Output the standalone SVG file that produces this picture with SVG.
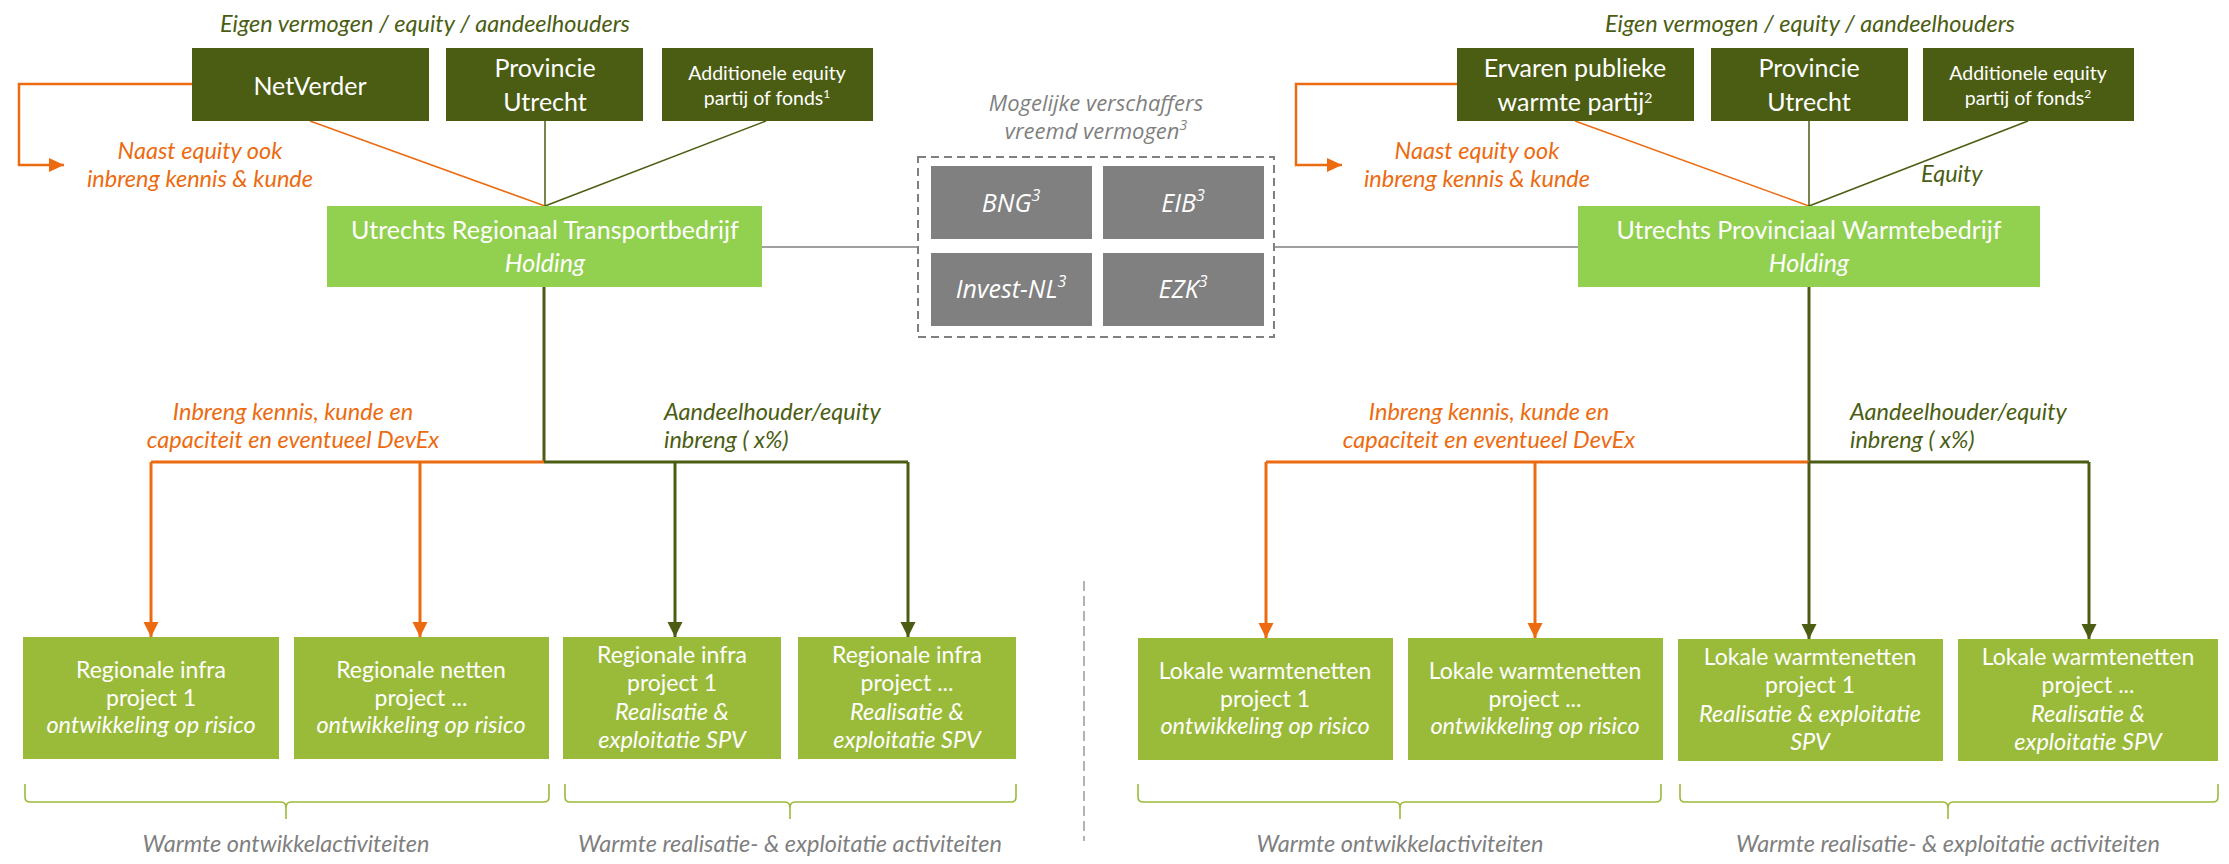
<svg xmlns="http://www.w3.org/2000/svg" width="2229" height="864" viewBox="0 0 2229 864">
<defs>
<style>
.c{font-family:Lato,"Liberation Sans",sans-serif;text-anchor:middle}
.w{fill:#ffffff}
.i{font-style:italic}
.big{font-size:25px}
.sm{font-size:19.5px}
.pb{font-size:23px}
.pi{font-size:23.5px;font-style:italic}
.lab{font-size:23.5px;font-style:italic}
.seg{font-family:"Open Sans","Liberation Sans",sans-serif;font-style:italic;text-anchor:middle}
.dark{fill:#4b5d12}
.hold{fill:#92d050}
.proj{fill:#9abb3a}
.gbox{fill:#808080}
.ol{stroke:#4b5d12;fill:none}
.or{stroke:#ec6b10;fill:none}
.gr{stroke:#808080;fill:none;stroke-width:1.5}
.br{stroke:#9bbb3b;fill:none;stroke-width:1.6}
</style>
<marker id="ao" markerUnits="userSpaceOnUse" markerWidth="16" markerHeight="16" viewBox="0 0 16 16" refX="15" refY="8" orient="auto"><path d="M0,0.5 L15,8 L0,15.5Z" fill="#ec6b10"/></marker>
<marker id="ag" markerUnits="userSpaceOnUse" markerWidth="16" markerHeight="16" viewBox="0 0 16 16" refX="15" refY="8" orient="auto"><path d="M0,0.5 L15,8 L0,15.5Z" fill="#4b5d12"/></marker>
<marker id="as" markerUnits="userSpaceOnUse" markerWidth="16" markerHeight="14" viewBox="0 0 16 14" refX="15" refY="7" orient="auto"><path d="M0,0 L15,7 L0,14Z" fill="#ec6b10"/></marker>
</defs>
<rect width="2229" height="864" fill="#ffffff"/>

<g id="connectors">
<line class="or" x1="310" y1="121" x2="545" y2="206" stroke-width="1.5"/>
<line class="ol" x1="545" y1="121" x2="545" y2="206" stroke-width="1.5"/>
<line class="ol" x1="766" y1="121" x2="545" y2="206" stroke-width="1.5"/>
<path class="or" d="M192,84 H19 V165 H64" stroke-width="2.5" marker-end="url(#as)"/>
<line class="gr" x1="762" y1="247" x2="918" y2="247"/>
<line class="ol" x1="544" y1="287" x2="544" y2="462" stroke-width="3"/>
<line class="or" x1="151" y1="462" x2="544" y2="462" stroke-width="3"/>
<line class="ol" x1="544" y1="462" x2="908" y2="462" stroke-width="3"/>
<path class="or" d="M151,462 V637" stroke-width="3" marker-end="url(#ao)"/>
<path class="or" d="M420,462 V637" stroke-width="3" marker-end="url(#ao)"/>
<path class="ol" d="M675,462 V637" stroke-width="3" marker-end="url(#ag)"/>
<path class="ol" d="M908,462 V637" stroke-width="3" marker-end="url(#ag)"/>

<line class="or" x1="1575" y1="121" x2="1809" y2="206" stroke-width="1.5"/>
<line class="ol" x1="1809" y1="121" x2="1809" y2="206" stroke-width="1.5"/>
<line class="ol" x1="2028" y1="121" x2="1809" y2="206" stroke-width="1.5"/>
<path class="or" d="M1457,84 H1296 V165 H1342" stroke-width="2.5" marker-end="url(#as)"/>
<line class="gr" x1="1274" y1="247" x2="1578" y2="247"/>
<line class="ol" x1="1809" y1="287" x2="1809" y2="462" stroke-width="3"/>
<line class="or" x1="1266" y1="462" x2="1809" y2="462" stroke-width="3"/>
<line class="ol" x1="1809" y1="462" x2="2089" y2="462" stroke-width="3"/>
<path class="or" d="M1266,462 V638" stroke-width="3" marker-end="url(#ao)"/>
<path class="or" d="M1535,462 V638" stroke-width="3" marker-end="url(#ao)"/>
<path class="ol" d="M1809,462 V639" stroke-width="3" marker-end="url(#ag)"/>
<path class="ol" d="M2089,462 V639" stroke-width="3" marker-end="url(#ag)"/>

<line x1="1084" y1="581" x2="1084" y2="841" stroke="#999999" stroke-width="1.5" stroke-dasharray="10,5"/>
</g>

<g id="braces">
<path class="br" d="M25,784 V797 Q25,802 30,802 H281 Q286,802 286,808 V819 M286,808 Q286,802 291,802 H544 Q549,802 549,797 V784"/>
<path class="br" d="M565,784 V797 Q565,802 570,802 H785 Q790,802 790,808 V819 M790,808 Q790,802 795,802 H1011 Q1016,802 1016,797 V784"/>
<path class="br" d="M1138,784 V797 Q1138,802 1143,802 H1395 Q1400,802 1400,808 V819 M1400,808 Q1400,802 1405,802 H1656 Q1661,802 1661,797 V784"/>
<path class="br" d="M1680,784 V797 Q1680,802 1685,802 H1943 Q1948,802 1948,808 V819 M1948,808 Q1948,802 1953,802 H2213 Q2218,802 2218,797 V784"/>
</g>

<g id="labels">
<text class="c lab" x="425" y="32" fill="#4b5d12">Eigen vermogen / equity / aandeelhouders</text>
<text class="c lab" x="1810" y="32" fill="#4b5d12">Eigen vermogen / equity / aandeelhouders</text>
<text class="c lab" x="200" y="159" fill="#ec6b10">Naast equity ook</text>
<text class="c lab" x="200" y="187" fill="#ec6b10">inbreng kennis &amp; kunde</text>
<text class="c lab" x="1477" y="159" fill="#ec6b10">Naast equity ook</text>
<text class="c lab" x="1477" y="187" fill="#ec6b10">inbreng kennis &amp; kunde</text>
<text class="c lab" x="1921" y="182" fill="#4b5d12" style="text-anchor:start">Equity</text>
<text class="seg" x="1096" y="111" font-size="22" fill="#7f7f7f">Mogelijke verschaffers</text>
<text class="seg" x="1096" y="139" font-size="22" fill="#7f7f7f">vreemd vermogen<tspan font-size="14" baseline-shift="super">3</tspan></text>
<text class="c lab" x="293" y="420" fill="#ec6b10">Inbreng kennis, kunde en</text>
<text class="c lab" x="293" y="448" fill="#ec6b10">capaciteit en eventueel DevEx</text>
<text class="c lab" x="664" y="420" fill="#4b5d12" style="text-anchor:start">Aandeelhouder/equity</text>
<text class="c lab" x="664" y="448" fill="#4b5d12" style="text-anchor:start">inbreng ( x%)</text>
<text class="c lab" x="1489" y="420" fill="#ec6b10">Inbreng kennis, kunde en</text>
<text class="c lab" x="1489" y="448" fill="#ec6b10">capaciteit en eventueel DevEx</text>
<text class="c lab" x="1850" y="420" fill="#4b5d12" style="text-anchor:start">Aandeelhouder/equity</text>
<text class="c lab" x="1850" y="448" fill="#4b5d12" style="text-anchor:start">inbreng ( x%)</text>
<text class="c lab" x="286" y="852" fill="#7f7f7f">Warmte ontwikkelactiviteiten</text>
<text class="c lab" x="790" y="852" fill="#7f7f7f">Warmte realisatie- &amp; exploitatie activiteiten</text>
<text class="c lab" x="1400" y="852" fill="#7f7f7f">Warmte ontwikkelactiviteiten</text>
<text class="c lab" x="1948" y="852" fill="#7f7f7f">Warmte realisatie- &amp; exploitatie activiteiten</text>
</g>

<g id="netverder"><rect class="dark" x="192" y="48" width="237" height="73"/><text class="c w big" x="310" y="95">NetVerder</text></g>
<g id="provincie-l"><rect class="dark" x="446" y="48" width="197" height="73"/><text class="c w big" x="545" y="77">Provincie</text><text class="c w big" x="545" y="111">Utrecht</text></g>
<g id="additioneel-l"><rect class="dark" x="662" y="48" width="211" height="73"/><text class="c w sm" x="767" y="80">Additionele equity</text><text class="c w sm" x="767" y="105">partij of fonds<tspan font-size="12" baseline-shift="super">1</tspan></text></g>
<g id="holding-l"><rect class="hold" x="327" y="206" width="435" height="81"/><text class="c w big" x="545" y="239">Utrechts Regionaal Transportbedrijf</text><text class="c w big i" x="545" y="272">Holding</text></g>

<g id="ervaren"><rect class="dark" x="1457" y="48" width="237" height="73"/><text class="c w big" x="1575" y="77">Ervaren publieke</text><text class="c w big" x="1575" y="111">warmte partij<tspan font-size="14" baseline-shift="super">2</tspan></text></g>
<g id="provincie-r"><rect class="dark" x="1711" y="48" width="197" height="73"/><text class="c w big" x="1809" y="77">Provincie</text><text class="c w big" x="1809" y="111">Utrecht</text></g>
<g id="additioneel-r"><rect class="dark" x="1923" y="48" width="211" height="73"/><text class="c w sm" x="2028" y="80">Additionele equity</text><text class="c w sm" x="2028" y="105">partij of fonds<tspan font-size="12" baseline-shift="super">2</tspan></text></g>
<g id="holding-r"><rect class="hold" x="1578" y="206" width="462" height="81"/><text class="c w big" x="1809" y="239">Utrechts Provinciaal Warmtebedrijf</text><text class="c w big i" x="1809" y="272">Holding</text></g>

<g id="lenders">
<rect x="918" y="157" width="356" height="180" fill="none" stroke="#808080" stroke-width="2" stroke-dasharray="8,5"/>
<g id="bng"><rect class="gbox" x="931" y="166" width="161" height="73"/><text class="seg w" x="1011" y="212" font-size="25">BNG<tspan font-size="16" baseline-shift="super">3</tspan></text></g>
<g id="eib"><rect class="gbox" x="1103" y="166" width="161" height="73"/><text class="seg w" x="1183" y="212" font-size="25">EIB<tspan font-size="16" baseline-shift="super">3</tspan></text></g>
<g id="investnl"><rect class="gbox" x="931" y="253" width="161" height="73"/><text class="seg w" x="1011" y="298" font-size="25">Invest-NL<tspan font-size="16" baseline-shift="super">3</tspan></text></g>
<g id="ezk"><rect class="gbox" x="1103" y="253" width="161" height="73"/><text class="seg w" x="1183" y="298" font-size="25">EZK<tspan font-size="16" baseline-shift="super">3</tspan></text></g>
</g>

<g id="proj-l1"><rect class="proj" x="23" y="637" width="256" height="122"/><text class="c w pb" x="151" y="678">Regionale infra</text><text class="c w pb" x="151" y="706">project 1</text><text class="c w pi" x="151" y="733">ontwikkeling op risico</text></g>
<g id="proj-l2"><rect class="proj" x="294" y="637" width="255" height="122"/><text class="c w pb" x="421" y="678">Regionale netten</text><text class="c w pb" x="421" y="706">project ...</text><text class="c w pi" x="421" y="733">ontwikkeling op risico</text></g>
<g id="proj-l3"><rect class="proj" x="563" y="637" width="218" height="122"/><text class="c w pb" x="672" y="663">Regionale infra</text><text class="c w pb" x="672" y="691">project 1</text><text class="c w pi" x="672" y="720">Realisatie &amp;</text><text class="c w pi" x="672" y="748">exploitatie SPV</text></g>
<g id="proj-l4"><rect class="proj" x="798" y="637" width="218" height="122"/><text class="c w pb" x="907" y="663">Regionale infra</text><text class="c w pb" x="907" y="691">project ...</text><text class="c w pi" x="907" y="720">Realisatie &amp;</text><text class="c w pi" x="907" y="748">exploitatie SPV</text></g>

<g id="proj-r1"><rect class="proj" x="1138" y="638" width="255" height="122"/><text class="c w pb" x="1265" y="679">Lokale warmtenetten</text><text class="c w pb" x="1265" y="707">project 1</text><text class="c w pi" x="1265" y="734">ontwikkeling op risico</text></g>
<g id="proj-r2"><rect class="proj" x="1408" y="638" width="255" height="122"/><text class="c w pb" x="1535" y="679">Lokale warmtenetten</text><text class="c w pb" x="1535" y="707">project ...</text><text class="c w pi" x="1535" y="734">ontwikkeling op risico</text></g>
<g id="proj-r3"><rect class="proj" x="1678" y="639" width="265" height="122"/><text class="c w pb" x="1810" y="665">Lokale warmtenetten</text><text class="c w pb" x="1810" y="693">project 1</text><text class="c w pi" x="1810" y="722">Realisatie &amp; exploitatie</text><text class="c w pi" x="1810" y="750">SPV</text></g>
<g id="proj-r4"><rect class="proj" x="1958" y="639" width="260" height="122"/><text class="c w pb" x="2088" y="665">Lokale warmtenetten</text><text class="c w pb" x="2088" y="693">project ...</text><text class="c w pi" x="2088" y="722">Realisatie &amp;</text><text class="c w pi" x="2088" y="750">exploitatie SPV</text></g>
</svg>
